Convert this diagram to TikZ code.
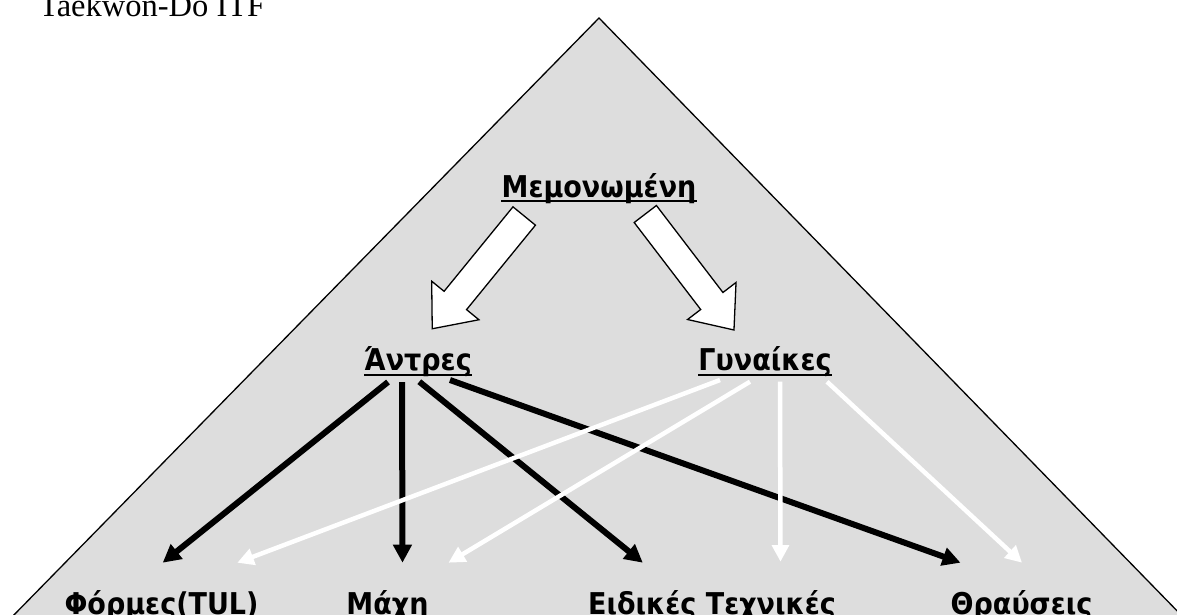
\documentclass[tikz,border=0pt]{standalone}
\usepackage{fontspec}
\setmainfont{Liberation Serif}
\newfontfamily\labfont{DejaVu Sans}[FakeStretch=0.9]
\usetikzlibrary{arrows.meta}
\definecolor{tribg}{RGB}{221,221,221}
\tikzset{
  lab/.style={font=\labfont\bfseries\fontsize{30}{30}\selectfont, inner sep=0pt, anchor=base},
  ttl/.style={font=\fontsize{32.5}{32.5}\selectfont, inner sep=0pt, anchor=base west},
  ul/.style={line width=2pt, black},
  blockarr/.style={draw=black, fill=white, line width=1.3pt, line join=miter},
  menarr/.style={line width=6pt, draw=black, -{Triangle[length=18pt,width=18pt]}},
  womarr/.style={line width=4.5pt, draw=white, -{Triangle[length=16.5pt,width=16.5pt]}}
}
\begin{document}
\begin{tikzpicture}[x=1pt,y=-1pt]
\useasboundingbox (0,0) rectangle (1177,614);
\clip (0,0) rectangle (1177,614);
% background triangle
\filldraw[fill=tribg, draw=black, line width=1.3pt] (599,18) -- (1205.5,640) -- (-10.6,640) -- cycle;
% title
\node[ttl] (title) at (39,16) {Taekwon-Do ITF};
% labels
\node[lab] (mem) at (599,197.3) {Μεμονωμένη};
\node[lab] (ant) at (418,370.7) {Άντρες};
\node[lab] (gyn) at (765,370.7) {Γυναίκες};
\node[lab] (for) at (161.5,614) {Φόρμες(TUL)};
\node[lab] (mach) at (387.5,614) {Μάχη};
\node[lab] (eid) at (712,614) {Ειδικές Τεχνικές};
\node[lab] (thr) at (1021.5,614) {Θραύσεις};
% underlines
\draw[ul] ([yshift=-4pt]mem.base west) -- ([yshift=-4pt]mem.base east);
\draw[ul] ([yshift=-4pt]ant.base west) -- ([yshift=-4pt]ant.base east);
\draw[ul] ([yshift=-4pt]gyn.base west) -- ([yshift=-4pt]gyn.base east);
% block arrows (Μεμονωμένη -> Άντρες, Μεμονωμένη -> Γυναίκες)
\begin{scope}[shift={(mem.base)}, shift={(-74.8,18.7)}, rotate=230.8]
  \draw[blockarr] (0,-14.5) -- (109,-14.5) -- (109,-30.5) -- (145.5,0) -- (109,30.5) -- (109,14.5) -- (0,14.5) -- cycle;
\end{scope}
\begin{scope}[shift={(mem.base)}, shift={(46.3,16.7)}, rotate=-52.6]
  \draw[blockarr] (0,-14) -- (109.5,-14) -- (109.5,-30.5) -- (146,0) -- (109.5,30.5) -- (109.5,14) -- (0,14) -- cycle;
\end{scope}
% men arrows
\draw[menarr] ([shift={(-30,11.3)}]ant.base) -- ([shift={(1.2,-51.3)}]for.base);
\draw[menarr] ([shift={(-16,11.3)}]ant.base) -- ([shift={(15,-51.3)}]mach.base);
\draw[menarr] ([shift={(1.3,11)}]ant.base) -- ([shift={(-69.2,-51.3)}]eid.base);
\draw[menarr] ([shift={(32,9.3)}]ant.base) -- ([shift={(-61,-51.3)}]thr.base);
% women arrows
\draw[womarr] ([shift={(-45,9.3)}]gyn.base) -- ([shift={(75.8,-51.3)}]for.base);
\draw[womarr] ([shift={(-15,11)}]gyn.base) -- ([shift={(61,-51.3)}]mach.base);
\draw[womarr] ([shift={(15,11)}]gyn.base) -- ([shift={(68.5,-52.3)}]eid.base);
\draw[womarr] ([shift={(62,11)}]gyn.base) -- ([shift={(0.5,-51.3)}]thr.base);
\end{tikzpicture}
\end{document}
